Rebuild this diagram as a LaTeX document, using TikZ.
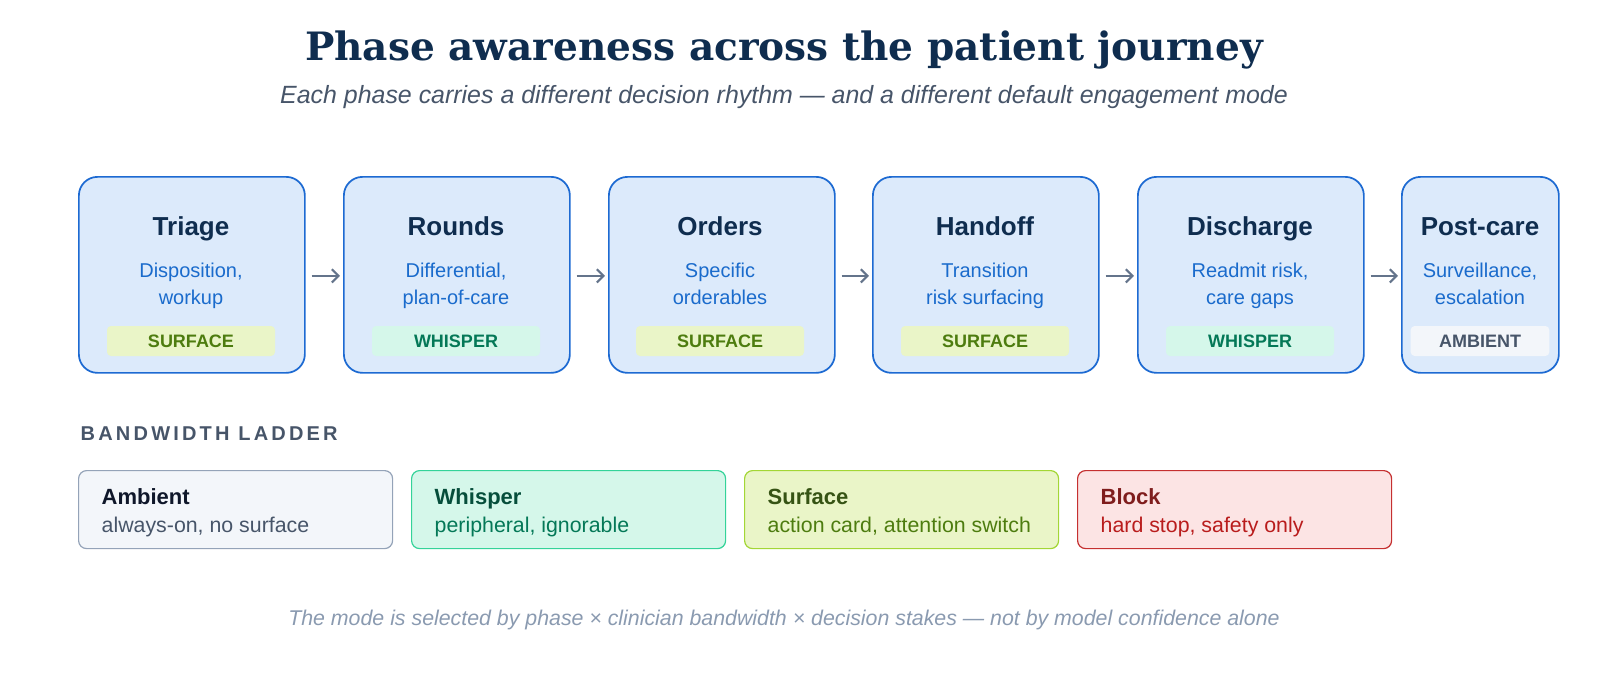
\documentclass[tikz,border=0pt]{standalone}
\usepackage{fontspec}
\setmainfont{Liberation Sans}
\newfontfamily\titlefont{DejaVu Serif}
\usetikzlibrary{positioning,arrows.meta}
\definecolor{navy}{HTML}{0F2D4F}
\definecolor{phasefill}{HTML}{DCEAFB}
\definecolor{phaseline}{HTML}{1D6AD2}
\definecolor{phasetxt}{HTML}{1A6BCC}
\definecolor{slate}{HTML}{475569}
\definecolor{arrowgray}{HTML}{64748B}
\definecolor{surffill}{HTML}{EAF5C8}
\definecolor{surftxt}{HTML}{4D7C0F}
\definecolor{surfline}{HTML}{A3D635}
\definecolor{surfdark}{HTML}{365314}
\definecolor{whisfill}{HTML}{D5F7EA}
\definecolor{whistxt}{HTML}{047857}
\definecolor{whisline}{HTML}{34D399}
\definecolor{whisdark}{HTML}{064E3B}
\definecolor{ambfill}{HTML}{F3F6FA}
\definecolor{ambline}{HTML}{94A3B8}
\definecolor{ambdark}{HTML}{0F172A}
\definecolor{blkfill}{HTML}{FCE4E4}
\definecolor{blkline}{HTML}{C53030}
\definecolor{blktxt}{HTML}{B91C1C}
\definecolor{blkdark}{HTML}{7F1D1D}
\definecolor{foot}{HTML}{8A9AB0}
\begin{document}
\begin{tikzpicture}[x=0.75pt,y=-0.75pt]
\tikzstyle{phase}=[draw=phaseline, fill=phasefill, line width=1.3pt, rounded corners=14pt, minimum width=169.5pt, minimum height=147pt, anchor=north west]
\tikzstyle{ptitle}=[anchor=base, text=navy, font=\bfseries\fontsize{19.5}{22}\selectfont]
\tikzstyle{pdesc}=[text=phasetxt, align=center, text depth=0pt, font=\fontsize{15}{20.5}\selectfont]
\tikzstyle{badge}=[rounded corners=3pt, minimum width=126pt, minimum height=22.5pt, text depth=0pt, font=\bfseries\fontsize{13.5}{15}\selectfont]
\tikzstyle{flow}=[-{Straight Barb[length=5pt,width=10pt]}, draw=arrowgray, line width=1.6pt]
\tikzstyle{rung}=[line width=0.9pt, rounded corners=6pt, minimum width=235.5pt, minimum height=58.5pt, anchor=north west]
\tikzstyle{rtitle}=[anchor=base west, font=\bfseries\fontsize{16.5}{18}\selectfont]
\tikzstyle{rdesc}=[anchor=base west, font=\fontsize{16}{18}\selectfont]

\useasboundingbox (0,0) rectangle (1600,700);
% heading
\node[text=navy, font=\titlefont\bfseries\fontsize{29.3}{34}\selectfont] (title) at (784,50) {Phase awareness across the patient journey};
\node[text=slate, font=\itshape\fontsize{18.7}{22}\selectfont] (sub) at (784,97) {Each phase carries a different decision rhythm — and a different default engagement mode};

% phases
\node[phase] (P1) at (78,176) {};
\node[phase] (P2) at (343,176) {};
\node[phase] (P3) at (608,176) {};
\node[phase] (P4) at (872,176) {};
\node[phase] (P5) at (1137,176) {};
\node[phase, minimum width=117.75pt] (P6) at (1401,176) {};

\node[ptitle] (t1) at (191,235) {Triage};
\node[ptitle] (t2) at (456,235) {Rounds};
\node[ptitle] (t3) at (720,235) {Orders};
\node[ptitle] (t4) at (985,235) {Handoff};
\node[ptitle] (t5) at (1250,235) {Discharge};
\node[ptitle] (t6) at (1480,235) {Post-care};

\node[pdesc] (d1) at (191,284) {Disposition,\\workup};
\node[pdesc] (d2) at (456,284) {Differential,\\plan-of-care};
\node[pdesc] (d3) at (720,284) {Specific\\orderables};
\node[pdesc] (d4) at (985,284) {Transition\\risk surfacing};
\node[pdesc] (d5) at (1250,284) {Readmit risk,\\care gaps};
\node[pdesc] (d6) at (1480,284) {Surveillance,\\escalation};

\node[badge, fill=surffill, text=surftxt] (b1) at (191,341) {SURFACE};
\node[badge, fill=whisfill, text=whistxt] (b2) at (456,341) {WHISPER};
\node[badge, fill=surffill, text=surftxt] (b3) at (720,341) {SURFACE};
\node[badge, fill=surffill, text=surftxt] (b4) at (985,341) {SURFACE};
\node[badge, fill=whisfill, text=whistxt] (b5) at (1250,341) {WHISPER};
\node[badge, fill=ambfill, text=slate, minimum width=104pt] (b6) at (1480,341) {AMBIENT};

\draw[flow] ([xshift=4.5pt,yshift=-0.75pt]P1.east) -- ([xshift=-2.25pt,yshift=-0.75pt]P2.west);
\draw[flow] ([xshift=4.5pt,yshift=-0.75pt]P2.east) -- ([xshift=-2.25pt,yshift=-0.75pt]P3.west);
\draw[flow] ([xshift=4.5pt,yshift=-0.75pt]P3.east) -- ([xshift=-2.25pt,yshift=-0.75pt]P4.west);
\draw[flow] ([xshift=4.5pt,yshift=-0.75pt]P4.east) -- ([xshift=-2.25pt,yshift=-0.75pt]P5.west);
\draw[flow] ([xshift=4.5pt,yshift=-0.75pt]P5.east) -- ([xshift=-2.25pt,yshift=-0.75pt]P6.west);

% ladder
\node[anchor=west, text=slate, font=\bfseries\addfontfeatures{LetterSpace=16}\fontsize{15}{18}\selectfont] (lad) at (76,434) {BANDWIDTH LADDER};

\node[rung, draw=ambline, fill=ambfill] (R1) at (78,470) {};
\node[rung, draw=whisline, fill=whisfill] (R2) at (411,470) {};
\node[rung, draw=surfline, fill=surffill] (R3) at (744,470) {};
\node[rung, draw=blkline, fill=blkfill] (R4) at (1077,470) {};

\node[rtitle, text=ambdark] (r1) at (97,504) {Ambient};
\node[rdesc, text=slate] (s1) at (97,532) {always-on, no surface};
\node[rtitle, text=whisdark] (r2) at (430,504) {Whisper};
\node[rdesc, text=whistxt] (s2) at (430,532) {peripheral, ignorable};
\node[rtitle, text=surfdark] (r3) at (763,504) {Surface};
\node[rdesc, text=surftxt] (s3) at (763,532) {action card, attention switch};
\node[rtitle, text=blkdark] (r4) at (1096,504) {Block};
\node[rdesc, text=blktxt] (s4) at (1096,532) {hard stop, safety only};

% footer
\node[text=foot, font=\itshape\fontsize{16}{18}\selectfont] (note) at (784,620) {The mode is selected by phase × clinician bandwidth × decision stakes — not by model confidence alone};
\end{tikzpicture}
\end{document}
